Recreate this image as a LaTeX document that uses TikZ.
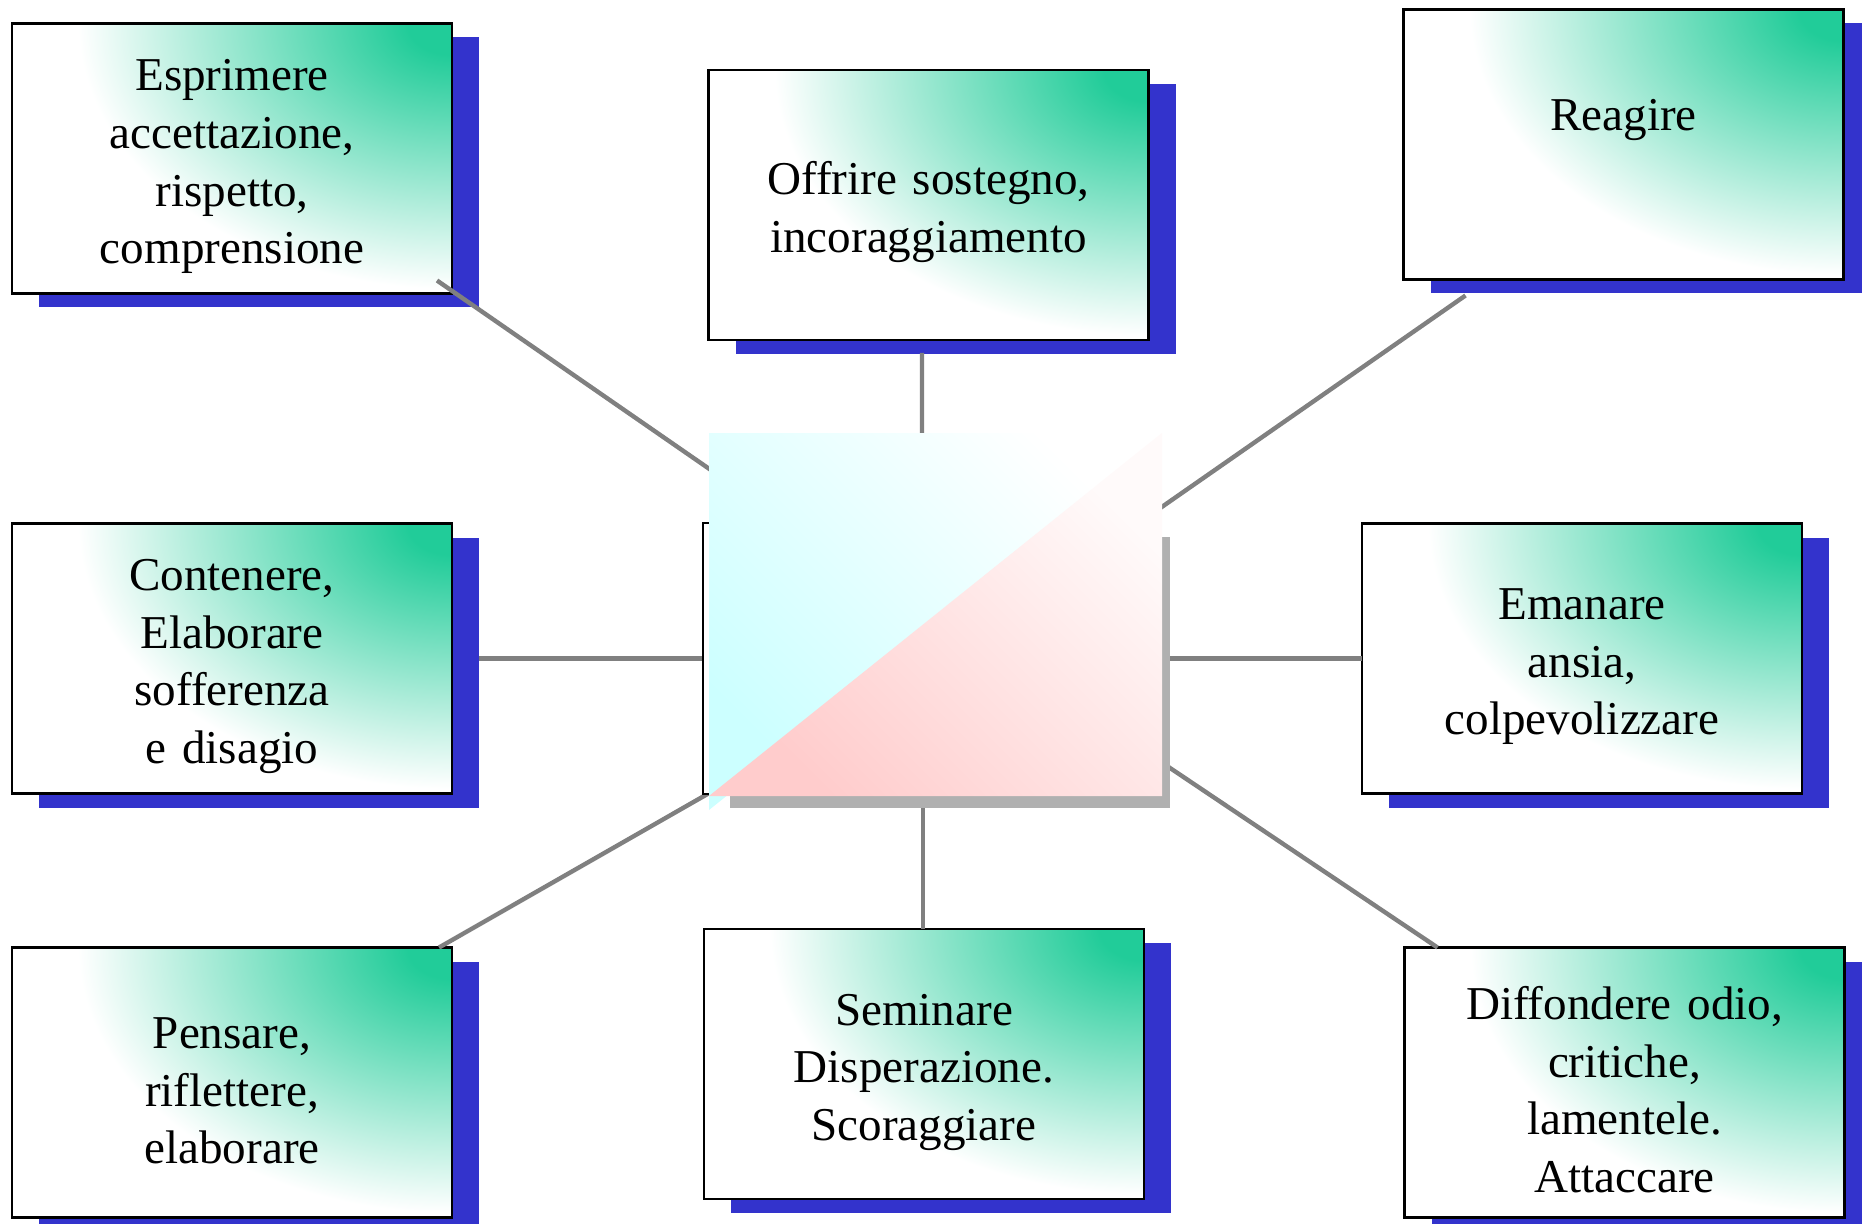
\documentclass[tikz,border=0pt]{standalone}
\usepackage{fontspec}
\setmainfont{Liberation Serif}
\usepackage{tikz}
\usetikzlibrary{positioning,calc,shadows}
\definecolor{boxgreen}{RGB}{33,204,153}
\definecolor{shadeblue}{RGB}{51,51,204}
\definecolor{shadegray}{RGB}{176,176,176}
\definecolor{spokegray}{RGB}{128,128,128}
\pgfdeclareradialshading{cardglow}{\pgfpoint{0bp}{0bp}}{color(0bp)=(boxgreen);
    color(2bp)=(boxgreen); color(17bp)=(white); color(50bp)=(white)}
\pgfdeclarelayer{front}
\pgfsetlayers{main,front}

\begin{document}
\begin{tikzpicture}[
    card/.style={draw, fill=white, line width=0.6pt, minimum width=4.4cm, minimum height=2.7cm,
                 inner sep=0pt, outer sep=0pt, text width=4.3cm, align=center,
                 font=\fontsize{13.4pt}{16.4pt}\selectfont,
                 execute at begin node={\rule{0pt}{13.5pt}},
                 path picture={\shade[shading=cardglow]
                     (path picture bounding box.north east) ellipse (5.5cm and 3.9cm);},
                 drop shadow={shadow xshift=0.27cm, shadow yshift=-0.14cm,
                              fill=shadeblue, opacity=1}},
    centre/.style={draw, line width=0.6pt, fill=white, minimum width=4.4cm,
                   minimum height=2.71cm, inner sep=0pt, outer sep=0pt,
                   drop shadow={shadow xshift=0.27cm, shadow yshift=-0.14cm,
                                fill=shadegray, opacity=1}},
    spoke/.style={spokegray, line width=1.25pt},
]
    \useasboundingbox (0,0) rectangle (18.62,12.23);

    % Centre (drawn on top of the spokes)
    \begin{pgfonlayer}{front}
    \node[centre] (core) at (9.23,5.645) {};
    \coordinate (imgnw) at ($(core.north west)+(0.06,0.90)$);
    \coordinate (imgse) at ($(core.south east)+(0.19,-0.02)$);
    \shade[left color=cyan!20, right color=white, shading angle=135]
        (imgnw) -- (imgnw -| imgse) -- ($(imgnw -| imgse)+(0,-0.15)$)
        -- ($(imgnw |- imgse)+(0,-0.14)$) -- cycle;
    \shade[left color=red!20, right color=red!2, shading angle=135]
        (imgnw |- imgse) -- (imgse) -- (imgnw -| imgse) -- cycle;
    \end{pgfonlayer}

    % Middle row
    \node[card, left=2.51cm of core] (contain) {Contenere,\\Elaborare\\sofferenza\\e disagio};
    \node[card, right=2.19cm of core] (emit) {Emanare\\ansia,\\colpevolizzare};

    % Top row
    \node[card, above=2.30cm of contain] (express) {Esprimere\\accettazione,\\rispetto,\\comprensione};
    \node[card, above=1.83cm of core, xshift=0.055cm] (support) {Offrire sostegno,\\incoraggiamento};
    \node[card, above=2.44cm of emit, xshift=0.415cm] (react) {Reagire\\\strut};

    % Bottom row
    \node[card, below=1.54cm of contain] (think) {Pensare,\\riflettere,\\elaborare};
    \node[card, below=1.35cm of core, xshift=0.01cm] (sow) {Seminare\\Disperazione.\\Scoraggiare};
    \node[card, below=1.54cm of emit, xshift=0.425cm] (spread) {Diffondere odio,\\critiche,\\lamentele.\\Attaccare};

    % Spokes
    \draw[spoke] ($(express.south east)+(-0.15,0.13)$) -- ($(core)+(-1.63,1.545)$);
    \draw[spoke] ($(support.south)+(-0.065,-0.13)$) -- ($(core)+(-0.01,1.785)$);
    \draw[spoke] ($(react.south west)+(0.62,-0.16)$) -- ($(core)+(1.77,1.085)$);
    \draw[spoke] ($(contain.east)+(0.27,0)$) -- ($(core)+(-1.63,0)$);
    \draw[spoke] (emit.west) -- ($(core)+(1.77,0)$);
    \draw[spoke] ($(think.north east)+(-0.13,0)$) -- ($(core)+(-1.63,-1.055)$);
    \draw[spoke] ($(sow.north)+(-0.01,0)$) -- ($(core)+(0,-1.015)$);
    \draw[spoke] ($(spread.north west)+(0.33,0)$) -- ($(core)+(1.77,-0.625)$);

\end{tikzpicture}
\end{document}
